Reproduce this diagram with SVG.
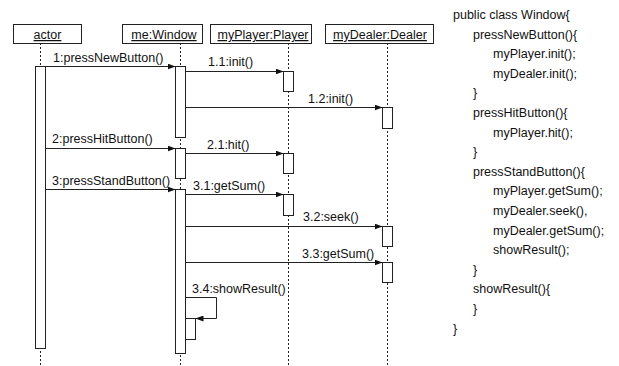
<svg xmlns="http://www.w3.org/2000/svg" width="619" height="366" viewBox="0 0 619 366">
  <style>
    text { font-family: "Liberation Sans", Arial, sans-serif; font-size: 12.5px; fill: #111; }
    .obj { fill: #fff; stroke: #222; stroke-width: 1; }
    .act { fill: #fff; stroke: #222; stroke-width: 1; }
    .life { stroke: #222; stroke-width: 1; stroke-dasharray: 2 2; fill: none; }
    .msg { stroke: #222; stroke-width: 1; fill: none; marker-end: url(#arrow); }
    .ul { text-decoration: underline; }
  </style>
  <defs>
    <marker id="arrow" viewBox="0 0 8 6" refX="8" refY="3" markerWidth="8" markerHeight="6" markerUnits="userSpaceOnUse" orient="auto">
      <path d="M0,0 L8,3 L0,6 Z" fill="#111"/>
    </marker>
  </defs>
  <rect width="619" height="366" fill="#fff"/>

  <!-- lifelines -->
  <g id="lifelines">
    <line class="life" x1="40.5" y1="43" x2="40.5" y2="366"/>
    <line class="life" x1="180.5" y1="43" x2="180.5" y2="366"/>
    <line class="life" x1="288.5" y1="43" x2="288.5" y2="366"/>
    <line class="life" x1="387.5" y1="43" x2="387.5" y2="366"/>
  </g>

  <g id="actor">
    <rect class="obj" x="13.5" y="24.5" width="68" height="19"/>
    <text class="ul" x="47.5" y="39" text-anchor="middle">actor</text>
    <rect class="act" x="35.5" y="66.5" width="10" height="282"/>
  </g>

  <g id="window">
    <rect class="obj" x="122.5" y="24.5" width="80" height="19"/>
    <text class="ul" x="164" y="39" text-anchor="middle">me:Window</text>
    <rect class="act" x="175.5" y="66.5" width="10" height="71"/>
    <rect class="act" x="175.5" y="148.5" width="10" height="30"/>
    <rect class="act" x="175.5" y="189.5" width="10" height="164"/>
    <rect class="act" x="185.5" y="318.5" width="10" height="21"/>
  </g>

  <g id="player">
    <rect class="obj" x="210.5" y="24.5" width="101" height="19"/>
    <text class="ul" x="263" y="39" text-anchor="middle">myPlayer:Player</text>
    <rect class="act" x="283.5" y="71.5" width="10" height="20"/>
    <rect class="act" x="283.5" y="153.5" width="10" height="20"/>
    <rect class="act" x="283.5" y="194.5" width="10" height="21"/>
  </g>

  <g id="dealer">
    <rect class="obj" x="325.5" y="24.5" width="108" height="19"/>
    <text class="ul" x="380" y="39" text-anchor="middle">myDealer:Dealer</text>
    <rect class="act" x="382.5" y="107.5" width="10" height="21"/>
    <rect class="act" x="382.5" y="226.5" width="10" height="20"/>
    <rect class="act" x="382.5" y="262.5" width="10" height="20"/>
  </g>

  <!-- messages -->
  <g id="connectors">
    <line class="msg" x1="45.5" y1="66.5" x2="175.5" y2="66.5"/>
    <line class="msg" x1="185.5" y1="71.5" x2="283.5" y2="71.5"/>
    <line class="msg" x1="185.5" y1="107.5" x2="382.5" y2="107.5"/>
    <line class="msg" x1="45.5" y1="148.5" x2="175.5" y2="148.5"/>
    <line class="msg" x1="185.5" y1="153.5" x2="283.5" y2="153.5"/>
    <line class="msg" x1="45.5" y1="189.5" x2="175.5" y2="189.5"/>
    <line class="msg" x1="185.5" y1="194.5" x2="283.5" y2="194.5"/>
    <line class="msg" x1="185.5" y1="226.5" x2="382.5" y2="226.5"/>
    <line class="msg" x1="185.5" y1="262.5" x2="382.5" y2="262.5"/>
    <polyline class="msg" points="185.5,297.5 216.5,297.5 216.5,318.5 195.5,318.5"/>
  </g>

  <g id="labels">
    <text x="53" y="62">1:pressNewButton()</text>
    <text x="208" y="66">1.1:init()</text>
    <text x="308" y="103">1.2:init()</text>
    <text x="52" y="143">2:pressHitButton()</text>
    <text x="207" y="149">2.1:hit()</text>
    <text x="52" y="185">3:pressStandButton()</text>
    <text x="193" y="190">3.1:getSum()</text>
    <text x="303" y="221">3.2:seek()</text>
    <text x="302" y="258">3.3:getSum()</text>
    <text x="192" y="293">3.4:showResult()</text>
  </g>

  <!-- source listing -->
  <g id="code">
    <text x="453" y="19">public class Window{</text>
    <text x="473" y="39">pressNewButton(){</text>
    <text x="493" y="58">myPlayer.init();</text>
    <text x="493" y="78">myDealer.init();</text>
    <text x="473" y="97">}</text>
    <text x="473" y="117">pressHitButton(){</text>
    <text x="493" y="137">myPlayer.hit();</text>
    <text x="473" y="156">}</text>
    <text x="473" y="176">pressStandButton(){</text>
    <text x="493" y="195">myPlayer.getSum();</text>
    <text x="493" y="215">myDealer.seek(),</text>
    <text x="493" y="235">myDealer.getSum();</text>
    <text x="493" y="254">showResult();</text>
    <text x="473" y="274">}</text>
    <text x="473" y="293">showResult(){</text>
    <text x="473" y="313">}</text>
    <text x="453" y="333">}</text>
  </g>
</svg>
